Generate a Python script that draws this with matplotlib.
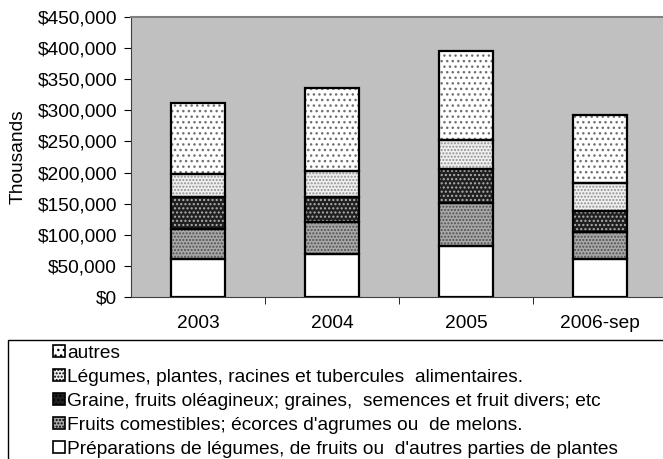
import matplotlib
matplotlib.use("Agg")
import matplotlib.pyplot as plt
from matplotlib.patches import Patch, Rectangle
from matplotlib.ticker import FuncFormatter
import numpy as np

plt.rcParams['font.family'] = ['Liberation Sans', 'DejaVu Sans']
plt.rcParams['hatch.linewidth'] = 1.0

years = ['2003', '2004', '2005', '2006-sep']

# stacked segments, bottom to top (values as read on the axis)
preparations = [61000, 69000, 82000, 61000]
fruits = [49000, 51000, 69000, 43000]
graine = [50000, 40000, 54000, 35000]
legumes = [37000, 42000, 48000, 45000]
autres = [115000, 134000, 142000, 109000]

series = [
    ("Préparations de légumes, de fruits ou  d'autres parties de plantes", preparations),
    ("Fruits comestibles; écorces d'agrumes ou  de melons.", fruits),
    ("Graine, fruits oléagineux; graines,  semences et fruit divers; etc", graine),
    ("Légumes, plantes, racines et tubercules  alimentaires.", legumes),
    ("autres", autres),
]

# facecolor, hatch, hatch colour
styles = [
    ('white', None, 'white'),
    ('#a8a8a8', '.....', '#505050'),
    ('#202020', '....', '#b0b0b0'),
    ('#f0f0f0', '.....', '#909090'),
    ('white', '...', '#707070'),
]

fs = 13.8

fig = plt.figure(figsize=(6.63, 4.59), dpi=100)
ax = fig.add_axes([131 / 663, 1 - 297 / 459, 1 - 131 / 663, 280 / 459])
ax.set_facecolor('#c0c0c0')

x = np.arange(len(years))
width = 0.4
bottom = np.zeros(len(years))
handles = []
for (label, vals), (fc, hatch, hc) in zip(series, styles):
    vals = np.array(vals, dtype=float)
    ax.bar(x, vals, width, bottom=bottom, color=fc, hatch=hatch,
           edgecolor=hc, linewidth=0, zorder=2)
    ax.bar(x, vals, width, bottom=bottom, fill=False,
           edgecolor='black', linewidth=1.6, zorder=3)
    bottom += vals
    handles.append(Patch(facecolor=fc, hatch=hatch, edgecolor=hc, label=label))

ax.set_xlim(-0.5, 3.5 - 4 / 134)
ax.set_ylim(0, 450000)
ax.set_yticks(np.arange(0, 450001, 50000))
ax.yaxis.set_major_formatter(FuncFormatter(lambda v, p: '${:,.0f}'.format(v)))
ax.set_xticks(x)
ax.set_xticklabels(years)
ax.set_xticks(np.arange(0.5, 3.5, 1), minor=True)
ax.tick_params(axis='x', which='major', length=0, pad=13, labelsize=fs)
ax.tick_params(axis='x', which='minor', length=5, color='black')
ax.tick_params(axis='y', length=5, labelsize=fs, pad=5)
ax.set_ylabel('Thousands', fontsize=fs, labelpad=8)

for side in ['left', 'bottom']:
    ax.spines[side].set_color('#404040')
ax.spines['top'].set_color('#808080')
ax.spines['top'].set_linewidth(1.5)
ax.spines['right'].set_visible(False)

# legend box
fig.patches.append(Rectangle((8 / 663, -0.05), 1.0, 1 - 340 / 459 + 0.05,
                             transform=fig.transFigure, fill=False,
                             edgecolor='black', linewidth=1.0))
leg_handles = []
for h in handles[::-1]:
    leg_handles.append(Patch(facecolor=h.get_facecolor(), hatch=h.get_hatch(),
                             edgecolor='black', linewidth=1.2, label=h.get_label()))
fig.legend(handles=leg_handles, loc='upper left',
           bbox_to_anchor=(53 / 663, 1 - 345 / 459), frameon=False,
           fontsize=fs, handlelength=0.62, handleheight=0.62, handletextpad=0.12,
           labelspacing=0.36, borderpad=0, borderaxespad=0)

fig.savefig('out.png', dpi=100)
